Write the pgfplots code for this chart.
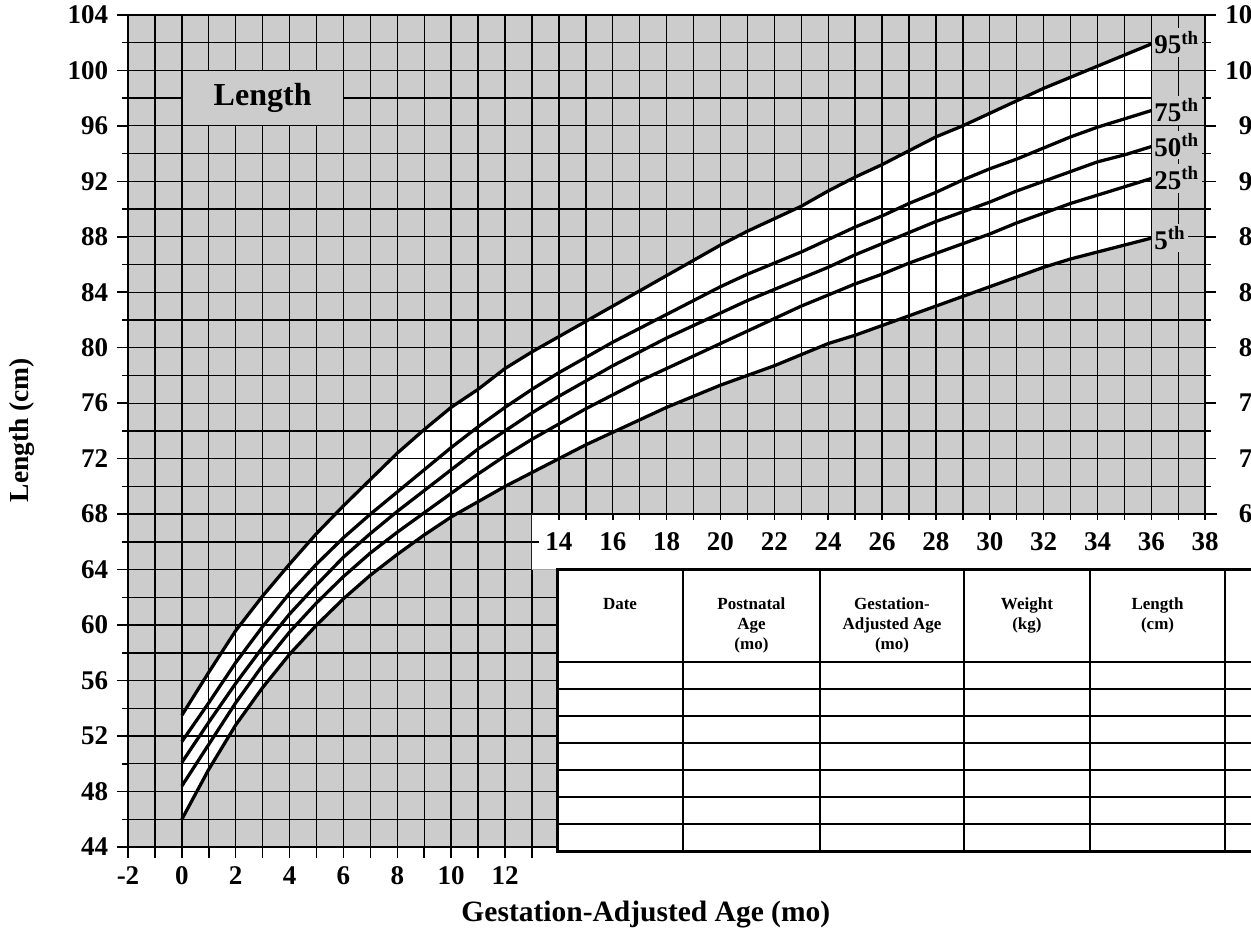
\documentclass[border=0pt]{standalone}
\usepackage{fontspec}
\setmainfont{Liberation Serif}
\usepackage{pgfplots}
\usepackage{pgfplotstable}
\pgfplotsset{compat=1.18}
\definecolor{chartgray}{RGB}{204,204,204}

% gestation-adjusted age (mo) and length percentiles (cm)
\pgfplotstableread{
m   p5    p25   p50   p75   p95
0   46.0  48.4  50.1  51.6  53.5
1   49.6  51.4  53.0  54.4  56.6
2   52.8  54.4  55.8  57.3  59.6
3   55.5  57.1  58.4  59.9  62.1
4   57.9  59.5  60.8  62.3  64.4
5   60.0  61.6  62.9  64.4  66.6
6   61.9  63.5  64.9  66.3  68.6
7   63.6  65.2  66.6  68.0  70.5
8   65.1  66.7  68.2  69.6  72.4
9   66.5  68.1  69.7  71.2  74.1
10  67.8  69.5  71.2  72.8  75.7
11  68.9  70.9  72.7  74.3  77.0
12  70.0  72.2  74.0  75.7  78.5
13  71.0  73.4  75.3  77.0  79.7
14  72.0  74.5  76.5  78.2  80.8
15  73.0  75.6  77.6  79.3  81.9
16  73.9  76.6  78.7  80.4  83.0
17  74.8  77.6  79.7  81.4  84.1
18  75.7  78.5  80.7  82.4  85.2
19  76.5  79.4  81.6  83.4  86.3
20  77.3  80.3  82.5  84.4  87.4
21  78.0  81.2  83.4  85.3  88.4
22  78.7  82.1  84.2  86.1  89.3
23  79.5  83.0  85.0  86.9  90.2
24  80.3  83.8  85.8  87.8  91.3
25  80.9  84.6  86.7  88.7  92.3
26  81.6  85.3  87.5  89.5  93.2
27  82.3  86.1  88.3  90.4  94.2
28  83.0  86.8  89.1  91.2  95.2
29  83.7  87.5  89.8  92.1  96.0
30  84.4  88.2  90.5  92.9  96.9
31  85.1  89.0  91.3  93.6  97.8
32  85.8  89.7  92.0  94.4  98.7
33  86.4  90.4  92.7  95.2  99.5
34  86.9  91.0  93.4  95.9  100.3
35  87.4  91.6  93.9  96.5  101.1
36  87.9  92.2  94.5  97.1  101.9
}\lengthdata

\newcommand{\tickfont}{\fontsize{10.8}{12}\selectfont\bfseries}

\begin{document}
\begin{tikzpicture}
\begin{axis}[
  x=10.77pt, y=5.5467pt,
  xmin=-2, xmax=38, ymin=44, ymax=104,
  axis on top,
  axis background/.style={fill=chartgray},
  axis line style={line width=0.9pt},
  grid=both,
  grid style={black, line width=0.55pt},
  minor grid style={black, line width=0.55pt},
  major grid style={black, line width=0.55pt},
  xtick={-2,-1,...,38},
  xticklabels={-2,,0,,2,,4,,6,,8,,10,,12,,,,,,,,,,,,,,,,,,,,,,,,,,},
  ytick={44,48,...,104},
  minor ytick={46,50,...,102},
  xtick pos=left,
  ytick pos=both,
  tick align=outside,
  major tick length=4.4pt,
  minor tick length=2.2pt,
  tick style={black, line width=0.6pt},
  ticklabel style={font=\tickfont},
  /pgf/number format/assume math mode=true,
]
  % white band between 5th and 95th
  \addplot[fill=white, draw=none] table[x=m, y=p95] {\lengthdata} \closedcycle;
  \addplot[fill=chartgray, draw=none] table[x=m, y=p5] {\lengthdata} \closedcycle;

  \addplot[black, line width=1.3pt] table[x=m, y=p95] {\lengthdata};
  \addplot[black, line width=1.3pt] table[x=m, y=p75] {\lengthdata};
  \addplot[black, line width=1.3pt] table[x=m, y=p50] {\lengthdata};
  \addplot[black, line width=1.3pt] table[x=m, y=p25] {\lengthdata};
  \addplot[black, line width=1.3pt] table[x=m, y=p5] {\lengthdata};

  \coordinate (O) at (axis cs:0,0);
\end{axis}

\begin{scope}[shift={(O)}, x=10.77pt, y=5.5467pt]
  % title box
  \fill[chartgray] (0.03,96.06) rectangle (5.97,99.94);
  \node[font=\fontsize{12.8}{14}\selectfont\bfseries] at (3,98) {Length};

  % white strip and record table
  \fill[white] (13,68) -- (41,68) -- (41,42.6) -- (13.93,42.6) -- (13.93,64) -- (13,64) -- cycle;
  \draw[line width=0.9pt] (13,68) -- (38,68);
  \draw[line width=0.6pt] (38,68) -- (38.42,68);
  \foreach \m in {14,...,38} \draw[line width=0.6pt] (\m,68) -- (\m,67.55);
  \draw[line width=0.55pt] (13,66) -- (13.25,66);
  \foreach \m in {14,16,...,38} \node[font=\tickfont] at (\m,66.0) {\m};

  \foreach \r in {57.34,55.39,53.44,51.50,49.55,47.60,45.66}
    \draw[line width=0.6pt] (13.93,\r) -- (41,\r);
  \foreach \c in {18.61,23.70,29.04,33.72,38.74}
    \draw[line width=0.6pt] (\c,64) -- (\c,43.71);
  \draw[line width=1.2pt] (41,64) -- (13.93,64) -- (13.93,43.71) -- (41,43.71);

  \begin{scope}[every node/.style={anchor=north, align=center,
      font=\fontsize{6.8}{8}\selectfont\bfseries}]
    \node at (16.27,62.6) {Date};
    \node at (21.15,62.6) {Postnatal\\Age\\(mo)};
    \node at (26.37,62.6) {Gestation-\\Adjusted Age\\(mo)};
    \node at (31.38,62.6) {Weight\\(kg)};
    \node at (36.23,62.6) {Length\\(cm)};
  \end{scope}

  % percentile labels
  \begin{scope}[every node/.style={anchor=west, fill=chartgray, inner sep=1pt,
      font=\tickfont}]
    \node at (36,102.0) {95\textsuperscript{th}};
    \node at (36,97.1) {75\textsuperscript{th}};
    \node at (36,94.6) {50\textsuperscript{th}};
    \node at (36,92.2) {25\textsuperscript{th}};
    \node at (36,87.9) {5\textsuperscript{th}};
  \end{scope}

  % right-hand tick labels (cut by the page edge, as in the original)
  \foreach \v in {68,72,...,104}
    \node[anchor=east, font=\tickfont, inner sep=0pt] at (40.27,\v) {\v};

  % axis titles
  \node[rotate=90, font=\fontsize{11}{12}\selectfont\bfseries] at (-5.95,74.06) {Length (cm)};
  \node[font=\fontsize{11.8}{13}\selectfont\bfseries] at (17.23,39.1) {Gestation-Adjusted Age (mo)};

  \coordinate (BL) at (-6.753,37.87);
  \coordinate (TR) at (39.70,105.07);
\end{scope}
\pgfresetboundingbox
\useasboundingbox (BL) rectangle (TR);
\end{tikzpicture}
\end{document}
